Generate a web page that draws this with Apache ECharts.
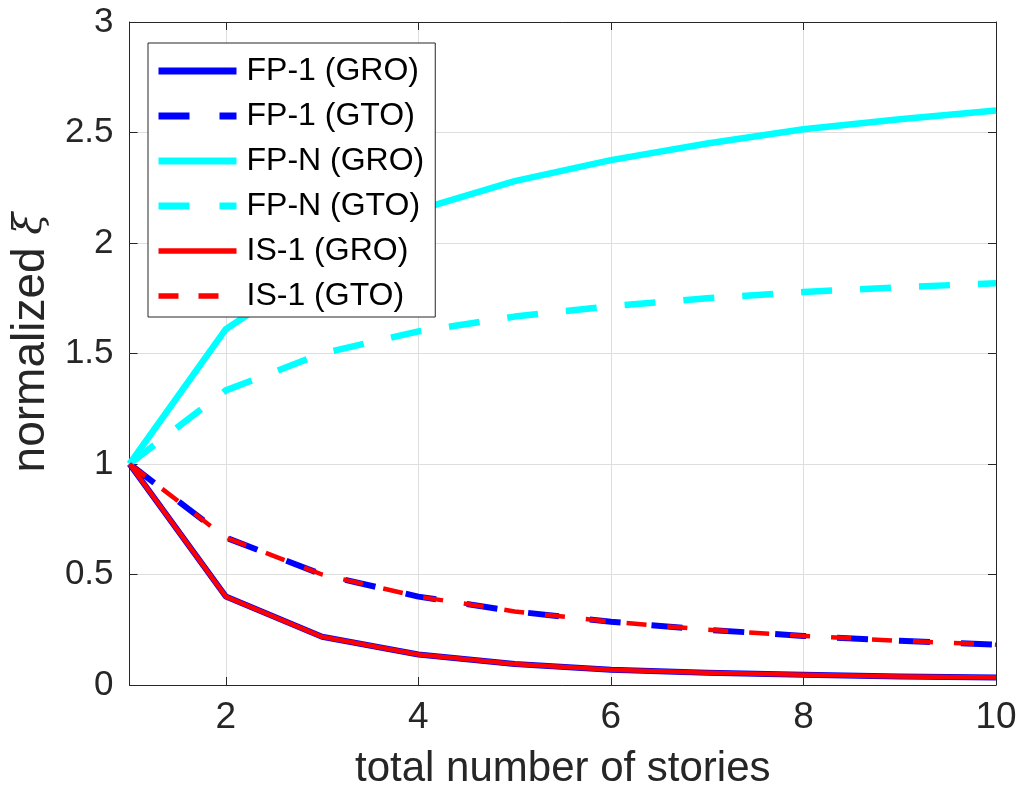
<!DOCTYPE html>
<html>
<head>
<meta charset="utf-8">
<script src="https://cdn.jsdelivr.net/npm/echarts@6/dist/echarts.min.js"></script>
<style>
html,body{margin:0;padding:0;background:#fff;}
#chart{width:1022px;height:799px;}
</style>
</head>
<body>
<div id="chart"></div>
<script>
// ---- data ----
const stories = [1, 2, 3, 4, 5, 6, 7, 8, 9, 10];
const xTicks = [2, 4, 6, 8, 10];
const fp1GRO = [1, 0.40, 0.218, 0.138, 0.095, 0.069, 0.055, 0.046, 0.039, 0.034];
const fp1GTO = [1, 0.667, 0.50, 0.40, 0.333, 0.286, 0.25, 0.222, 0.20, 0.182];
const fpNGRO = [1, 1.61, 1.90, 2.15, 2.28, 2.375, 2.45, 2.515, 2.56, 2.60];
const fpNGTO = [1, 1.333, 1.50, 1.60, 1.667, 1.714, 1.75, 1.778, 1.80, 1.818];
const is1GRO = [1, 0.40, 0.218, 0.138, 0.095, 0.069, 0.055, 0.046, 0.039, 0.034];
const is1GTO = [1, 0.667, 0.50, 0.40, 0.333, 0.286, 0.25, 0.222, 0.20, 0.182];
const seriesNames = ['FP-1 (GRO)', 'FP-1 (GTO)', 'FP-N (GRO)', 'FP-N (GTO)', 'IS-1 (GRO)', 'IS-1 (GTO)'];

const pairs = arr => stories.map((s, i) => [s, arr[i]]);
const FONT = '"Liberation Sans", Arial, Helvetica, sans-serif';
const AX = '#262626';
const GRIDC = '#dedede';

const defs = [
  {name: seriesNames[0], data: fp1GRO, color: '#0000ff', width: 6, type: 'solid', lw: 7, ltype: 'solid'},
  {name: seriesNames[1], data: fp1GTO, color: '#0000ff', width: 6, type: [31, 31], lw: 7, ltype: [31, 30]},
  {name: seriesNames[2], data: fpNGRO, color: '#00ffff', width: 6.5, type: 'solid', lw: 7, ltype: 'solid'},
  {name: seriesNames[3], data: fpNGTO, color: '#00ffff', width: 6.5, type: [31, 28], lw: 7, ltype: [31, 30]},
  {name: seriesNames[4], data: is1GRO, color: '#ff0000', width: 4.5, type: 'solid', lw: 5.5, ltype: 'solid'},
  {name: seriesNames[5], data: is1GTO, color: '#ff0000', width: 4.5, type: [20, 21], lw: 5.5, ltype: [20, 20]}
];

const chart = echarts.init(document.getElementById('chart'), null, {renderer: 'canvas'});

const option = {
  backgroundColor: '#ffffff',
  animation: false,
  grid: {left: 126, right: 26, top: 22, bottom: 114, containLabel: false},
  legend: {
    orient: 'vertical',
    left: 148,
    top: 43,
    padding: [12, 11, 5, 7],
    itemWidth: 78,
    itemHeight: 30,
    itemGap: 13,
    backgroundColor: '#ffffff',
    borderColor: AX,
    borderWidth: 1,
    borderRadius: 0,
    selectedMode: false,
    textStyle: {fontFamily: FONT, fontSize: 32, color: '#000', lineHeight: 30, padding: [0, 0, 0, 5]},
    data: defs.map(d => ({
      name: d.name,
      lineStyle: {color: d.color, width: d.lw, type: d.ltype, cap: 'butt'},
      itemStyle: {color: d.color, opacity: 0}
    }))
  },
  xAxis: [
    {
      type: 'value', min: 1, max: 10, position: 'bottom',
      name: 'total number of stories', nameLocation: 'middle', nameGap: 62,
      nameTextStyle: {fontFamily: FONT, fontSize: 42, color: AX, verticalAlign: 'top', lineHeight: 44},
      axisLine: {show: true, onZero: false, lineStyle: {color: AX, width: 1}},
      axisTick: {show: true, inside: true, length: 8, customValues: xTicks, lineStyle: {color: AX}},
      axisLabel: {show: true, customValues: xTicks, fontFamily: FONT, fontSize: 37, color: AX, margin: 14},
      splitLine: {show: true, lineStyle: {color: GRIDC, width: 1}}
    },
    {
      type: 'value', min: 1, max: 10, position: 'top',
      axisLine: {show: true, onZero: false, lineStyle: {color: AX, width: 1}},
      axisTick: {show: true, inside: true, length: 8, customValues: xTicks, lineStyle: {color: AX}},
      axisLabel: {show: false},
      splitLine: {show: false}
    }
  ],
  yAxis: [
    {
      type: 'value', min: 0, max: 3, interval: 0.5, position: 'left',
      name: '{n|normalized }{x|ξ}', nameLocation: 'middle', nameGap: 58, nameRotate: 90,
      nameTextStyle: {
        fontFamily: FONT, fontSize: 46, color: AX, padding: [0, 0, 0, 22],
        rich: {
          n: {fontFamily: FONT, fontSize: 46, color: AX},
          x: {fontFamily: '"DejaVu Serif", "Liberation Serif", serif', fontStyle: 'italic', fontSize: 40, color: AX}
        }
      },
      axisLine: {show: true, onZero: false, lineStyle: {color: AX, width: 1}},
      axisTick: {show: true, inside: true, length: 8, lineStyle: {color: AX}},
      axisLabel: {show: true, fontFamily: FONT, fontSize: 35, color: AX, margin: 16},
      splitLine: {show: true, lineStyle: {color: GRIDC, width: 1}}
    },
    {
      type: 'value', min: 0, max: 3, interval: 0.5, position: 'right',
      axisLine: {show: true, onZero: false, lineStyle: {color: AX, width: 1}},
      axisTick: {show: true, inside: true, length: 8, lineStyle: {color: AX}},
      axisLabel: {show: false},
      splitLine: {show: false}
    }
  ],
  series: defs.map(d => ({
    name: d.name,
    type: 'line',
    xAxisIndex: 0,
    yAxisIndex: 0,
    data: pairs(d.data),
    symbol: 'none',
    showSymbol: false,
    smooth: false,
    clip: true,
    color: d.color,
    lineStyle: {color: d.color, width: d.width, type: d.type, cap: 'butt', join: 'round'}
  }))
};

chart.setOption(option);
</script>
</body>
</html>
